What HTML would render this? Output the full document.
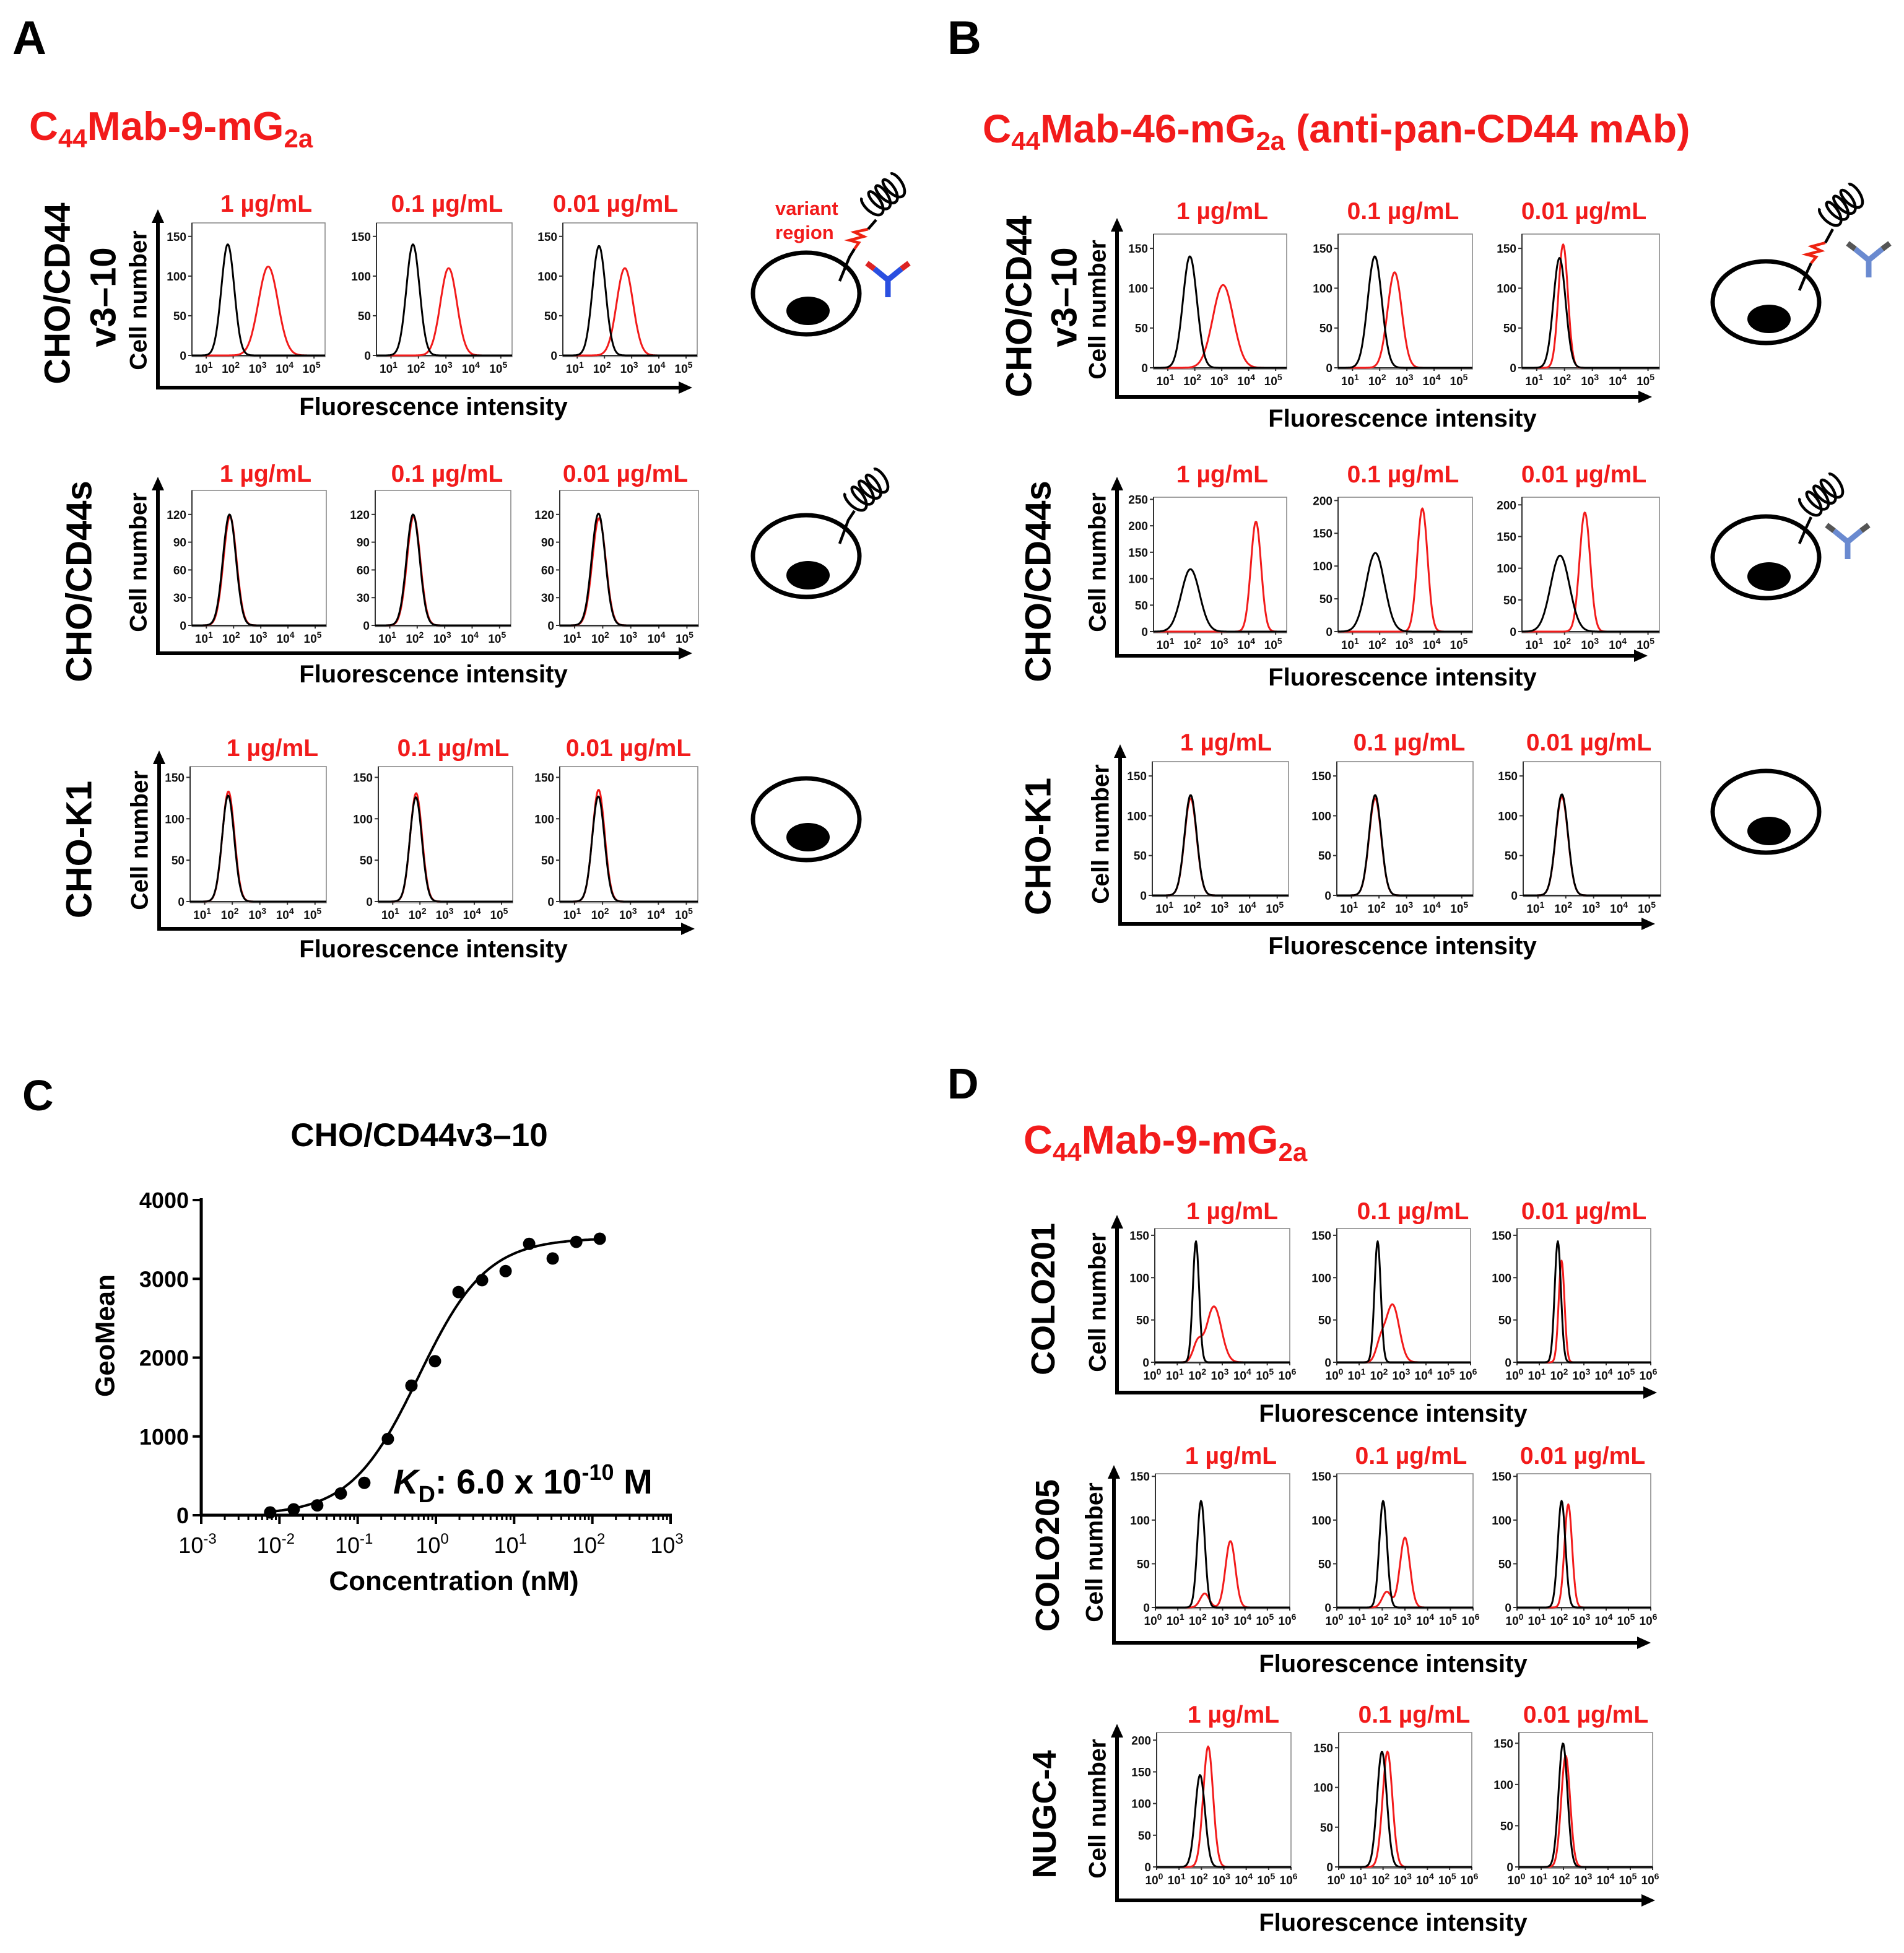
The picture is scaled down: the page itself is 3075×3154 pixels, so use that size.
<!DOCTYPE html>
<html><head><meta charset="utf-8"><style>
html,body{margin:0;padding:0;background:#fff;}
svg{display:block;font-family:"Liberation Sans",Arial,sans-serif;font-weight:bold;}
</style></head><body>
<svg id="fig" xmlns="http://www.w3.org/2000/svg" width="3075" height="3154" viewBox="0 0 3075 3154">
<rect x="0" y="0" width="3075" height="3154" fill="#fff"/>
<text x="20" y="87" font-size="76" fill="#000">A</text>
<text x="1530" y="87" font-size="76" fill="#000">B</text>
<text x="36" y="1793" font-size="70" fill="#000">C</text>
<text x="1530" y="1774" font-size="70" fill="#000">D</text>
<text x="47" y="226" font-size="65" fill="#f21b1b">C<tspan font-size="42" dy="12">44</tspan><tspan dy="-12">Mab-9-mG</tspan><tspan font-size="42" dy="12">2a</tspan></text>
<text x="1587" y="230" font-size="64" fill="#f21b1b">C<tspan font-size="42" dy="12">44</tspan><tspan dy="-12">Mab-46-mG</tspan><tspan font-size="42" dy="12">2a</tspan><tspan dy="-12"> (anti-pan-CD44 mAb)</tspan></text>
<text x="1653" y="1863" font-size="65" fill="#f21b1b">C<tspan font-size="42" dy="12">44</tspan><tspan dy="-12">Mab-9-mG</tspan><tspan font-size="42" dy="12">2a</tspan></text>
<text x="1252" y="347" font-size="31" fill="#f21b1b">variant</text>
<text x="1252" y="386" font-size="31" fill="#f21b1b">region</text>
<g id="root"></g>
</svg>
<script>
// ---------- Panel A data (log10 peak position, height, width) ----------
const aBlackPeak = [[1.8,1.8,1.8],[1.85,1.85,1.85],[1.85,1.85,1.85]];
const aBlackHeight = [[140,140,138],[120,120,121],[128,126,127]];
const aBlackWidth = [[0.24,0.24,0.24],[0.24,0.24,0.24],[0.22,0.22,0.22]];
const aRedPeak = [[3.3,3.1,2.75],[1.87,1.87,1.87],[1.86,1.86,1.86]];
const aRedHeight = [[112,110,110],[118,118,116],[133,131,135]];
const aRedWidth = [[0.36,0.3,0.3],[0.24,0.24,0.24],[0.22,0.22,0.22]];
// ---------- Panel B data ----------
const bBlackPeak = [[1.82,1.82,1.82],[1.84,1.84,1.84],[1.86,1.86,1.86]];
const bBlackHeight = [[140,140,138],[118,120,120],[126,126,127]];
const bBlackWidth = [[0.26,0.26,0.22],[0.34,0.34,0.34],[0.22,0.22,0.22]];
const bRedPeak = [[3.05,2.55,1.95],[4.27,3.57,2.73],[1.86,1.86,1.86]];
const bRedHeight = [[104,120,155],[208,188,188],[122,122,124]];
const bRedWidth = [[0.38,0.26,0.17],[0.19,0.19,0.19],[0.22,0.22,0.22]];
// ---------- Panel D data ----------
const dBlackPeak = [[1.83,1.83,1.83],[2.04,2.04,2.0],[1.94,1.95,1.98]];
const dBlackHeight = [[143,143,143],[122,122,122],[145,145,150]];
const dBlackWidth = [[0.14,0.14,0.14],[0.17,0.17,0.17],[0.22,0.22,0.2]];
const dRedPeak = [[2.63,2.5,2.0],[3.35,3.0,2.3],[2.3,2.2,2.1]];
const dRedHeight = [[66,68,120],[76,80,118],[190,145,135]];
const dRedWidth = [[0.33,0.3,0.13],[0.22,0.22,0.17],[0.22,0.22,0.2]];
const dShoulderPeak = [[1.9,1.95,0],[2.2,2.2,0],[0,0,0]];
const dShoulderHeight = [[22,20,0],[16,18,0],[0,0,0]];
// ---------- Panel C data ----------
const cConc = [0.0076,0.0152,0.0304,0.0608,0.1216,0.2432,0.4864,0.9728,1.946,3.891,7.782,15.56,31.13,62.26,124.5];
const cGeoMean = [35,75,125,276,411,968,1644,1955,2832,2983,3098,3444,3258,3469,3509];
const cFitBmax = [3520];
const cFitKd = [0.6];
const cYTicks = [0,1000,2000,3000,4000];
const cXTickExp = [-3,-2,-1,0,1,2,3];
const concLabels = ["1 µg/mL","0.1 µg/mL","0.01 µg/mL"];

const NS="http://www.w3.org/2000/svg";
const root=document.getElementById('root');
function mk(tag,attrs,parent){const e=document.createElementNS(NS,tag);for(const k in attrs)e.setAttribute(k,attrs[k]);(parent||root).appendChild(e);return e;}
const RED="#f21b1b";

function arrowAxes(prefix,xV,yTop,yH,xEnd){
  const v=mk('line',{x1:xV,y1:yTop+18,x2:xV,y2:yH+3,stroke:'#000','stroke-width':6});
  
  
  const vh=mk('polygon',{points:`${xV-10},${yTop+22} ${xV+10},${yTop+22} ${xV},${yTop}`,fill:'#000'});
  
  
  const h=mk('line',{x1:xV-3,y1:yH,x2:xEnd-18,y2:yH,stroke:'#000','stroke-width':6});
  
  
  const hh=mk('polygon',{points:`${xEnd-22},${yH-10} ${xEnd-22},${yH+10} ${xEnd},${yH}`,fill:'#000'});
  
  
}
function rotText(txt,cx,cy,size,name){
  const t=mk('text',{x:0,y:0,'font-size':size,'text-anchor':'middle','dominant-baseline':'central',transform:`translate(${cx},${cy}) rotate(-90)`,fill:'#000'});
  t.textContent=txt;
  
  
}
function hist(prefix,x0,x1,yTop,yZero,lmin,lmax,ymax,ticks,exps,bp,bh,bw,rp,rh,rw,sp,sh){
  const g=mk('g',{});
  
  
  const box=mk('rect',{x:x0,y:yTop,width:x1-x0,height:yZero-yTop+2,fill:'none',stroke:'#8a8a8a','stroke-width':1.6},g);
  
  
  const la=mk('line',{x1:x0,y1:yTop,x2:x0,y2:yZero,stroke:'#333','stroke-width':2},g);
  
  
  const ba=mk('line',{x1:x0,y1:yZero,x2:x1,y2:yZero,stroke:'#333','stroke-width':2},g);
  
  
  const sx=l=>x0+(l-lmin)/(lmax-lmin)*(x1-x0);
  const sy=v=>yZero-v/ymax*(yZero-yTop);
  ticks.forEach(tv=>{
    const tk=mk('line',{x1:x0-6,y1:sy(tv),x2:x0,y2:sy(tv),stroke:'#333','stroke-width':2},g);
    
    
    const tl=mk('text',{x:x0-9,y:sy(tv)+7,'font-size':19,'text-anchor':'end',fill:'#111'},g);
    tl.textContent=tv;
    
    
  });
  exps.forEach(ex=>{
    const tk=mk('line',{x1:sx(ex),y1:yZero,x2:sx(ex),y2:yZero+5,stroke:'#333','stroke-width':2},g);
    
    
    const tl=mk('text',{x:sx(ex)-4,y:yZero+28,'font-size':19,'text-anchor':'middle',fill:'#111'},g);
    tl.innerHTML='10<tspan font-size="14" dy="-8">'+ex+'</tspan>';
    
    
  });
  function curve(comps,color,name){
    let d='';const n=180;
    for(let i=0;i<=n;i++){
      const l=lmin+(lmax-lmin)*i/n;let v=0;
      comps.forEach(c=>{if(c[1]>0)v+=c[1]*Math.exp(-0.5*Math.pow((l-c[0])/c[2],2));});
      v=Math.min(v,ymax);
      d+=(i?'L':'M')+sx(l).toFixed(1)+','+sy(v).toFixed(1);
    }
    const p=mk('path',{d:d,fill:'none',stroke:color,'stroke-width':3,'stroke-linejoin':'round'},g);
    
    
  }
  const redC=[[rp,rh,rw]];
  if(sh) redC.push([sp,sh,0.2]);
  curve(redC,RED,prefix+'-antibody-curve');
  curve([[bp,bh,bw]],'#000',prefix+'-control-curve');
}
function colLabels(prefix,centers,baseline){
  centers.forEach((cx,i)=>{
    const t=mk('text',{x:cx,y:baseline,'font-size':39,'text-anchor':'middle',fill:RED});
    t.textContent=concLabels[i];
    
    
  });
}
function fluor(prefix,cx,baseline){
  const t=mk('text',{x:cx,y:baseline,'font-size':40,'text-anchor':'middle',fill:'#000'});
  t.textContent='Fluorescence intensity';
  
  
}

// ---------- layout ----------
const AB_EXP=[1,2,3,4,5], D_EXP=[0,1,2,3,4,5,6];
const rowsA=[
 {yTop:360,yZero:574,boxes:[[310,525],[608,827],[909,1126]],ymax:[167,167,167],ticks:[[0,50,100,150],[0,50,100,150],[0,50,100,150]],lab:[430,722,994],lb:342,ax:255,at:338,ay:626,ae:1118,fb:670,fx:700,cn:485},
 {yTop:792,yZero:1010,boxes:[[310,527],[606,825],[904,1128]],ymax:[146,146,146],ticks:[[0,30,60,90,120],[0,30,60,90,120],[0,30,60,90,120]],lab:[429,722,1010],lb:778,ax:255,at:770,ay:1055,ae:1118,fb:1102,fx:700,cn:908},
 {yTop:1238,yZero:1456,boxes:[[307,527],[611,828],[904,1127]],ymax:[163,163,163],ticks:[[0,50,100,150],[0,50,100,150],[0,50,100,150]],lab:[440,732,1015],lb:1221,ax:257,at:1212,ay:1500,ae:1122,fb:1546,fx:700,cn:1357}];
const rowsB=[
 {yTop:378,yZero:594,boxes:[[1863,2078],[2161,2378],[2458,2680]],ymax:[168,168,168],ticks:[[0,50,100,150],[0,50,100,150],[0,50,100,150]],lab:[1974,2266,2558],lb:354,ax:1804,at:352,ay:641,ae:2668,fb:689,fx:2265,cn:500},
 {yTop:803,yZero:1020,boxes:[[1863,2078],[2161,2378],[2458,2680]],ymax:[254,205,212],ticks:[[0,50,100,150,200,250],[0,50,100,150,200],[0,50,100,150,200]],lab:[1974,2266,2558],lb:779,ax:1804,at:770,ay:1059,ae:2661,fb:1107,fx:2265,cn:908},
 {yTop:1230,yZero:1446,boxes:[[1861,2081],[2159,2379],[2460,2682]],ymax:[168,168,168],ticks:[[0,50,100,150],[0,50,100,150],[0,50,100,150]],lab:[1980,2276,2566],lb:1212,ax:1809,at:1202,ay:1492,ae:2673,fb:1541,fx:2265,cn:1347}];
const rowsD=[
 {yTop:1984,yZero:2200,boxes:[[1865,2083],[2159,2375],[2450,2666]],ymax:[158,158,158],ticks:[[0,50,100,150],[0,50,100,150],[0,50,100,150]],lab:[1990,2282,2558],lb:1969,ax:1804,at:1962,ay:2249,ae:2676,fb:2296,fx:2250,cn:2103},
 {yTop:2380,yZero:2596,boxes:[[1866,2083],[2159,2379],[2450,2666]],ymax:[153,153,153],ticks:[[0,50,100,150],[0,50,100,150],[0,50,100,150]],lab:[1988,2279,2556],lb:2364,ax:1799,at:2366,ay:2653,ae:2666,fb:2700,fx:2250,cn:2507},
 {yTop:2798,yZero:3015,boxes:[[1868,2085],[2162,2377],[2453,2669]],ymax:[212,169,163],ticks:[[0,50,100,150,200],[0,50,100,150],[0,50,100,150]],lab:[1992,2284,2561],lb:2782,ax:1804,at:2784,ay:3069,ae:2673,fb:3118,fx:2250,cn:2921}];

function buildGroup(pref,rows,lmin,lmax,exps,BP,BH,BW,RP,RH,RW,SP,SH){
  rows.forEach((r,ri)=>{
    const rp=pref+'-row'+(ri+1);
    colLabels(rp,r.lab,r.lb);
    arrowAxes(rp,r.ax,r.at,r.ay,r.ae);
    fluor(rp,r.fx,r.fb);
    rotText('Cell number',r.ax-31,r.cn,39,rp+'-y-axis-title');
    r.boxes.forEach((b,ci)=>{
      hist(rp+'-hist-'+(ci+1),b[0],b[1],r.yTop,r.yZero,lmin,lmax,r.ymax[ci],r.ticks[ci],exps,
        BP[ri][ci],BH[ri][ci],BW[ri][ci],RP[ri][ci],RH[ri][ci],RW[ri][ci],SP?SP[ri][ci]:0,SH?SH[ri][ci]:0);
    });
  });
}
buildGroup('a',rowsA,0.47,5.41,AB_EXP,aBlackPeak,aBlackHeight,aBlackWidth,aRedPeak,aRedHeight,aRedWidth);
buildGroup('b',rowsB,0.47,5.41,AB_EXP,bBlackPeak,bBlackHeight,bBlackWidth,bRedPeak,bRedHeight,bRedWidth);
buildGroup('d',rowsD,0,6,D_EXP,dBlackPeak,dBlackHeight,dBlackWidth,dRedPeak,dRedHeight,dRedWidth,dShoulderPeak,dShoulderHeight);

// row labels
rotText('CHO/CD44',93,474,58,'a-row1-label');
rotText('v3–10',167,480,58,'a-row1-label-2');
rotText('CHO/CD44s',128,939,58,'a-row2-label');
rotText('CHO-K1',128,1372,58,'a-row3-label');
rotText('CHO/CD44',1646,495,58,'b-row1-label');
rotText('v3–10',1719,480,58,'b-row1-label-2');
rotText('CHO/CD44s',1677,939,58,'b-row2-label');
rotText('CHO-K1',1677,1367,58,'b-row3-label');
rotText('COLO201',1685,2098,54,'d-row1-label');
rotText('COLO205',1692,2512,54,'d-row2-label');
rotText('NUGC-4',1687,2930,54,'d-row3-label');

// ---------- cell diagrams ----------
function cell(name,cx,cy,nx,ny){
  const c=mk('ellipse',{cx:cx,cy:cy,rx:86,ry:66,fill:'none',stroke:'#000','stroke-width':7});
  
  
  const n=mk('ellipse',{cx:nx,cy:ny,rx:35,ry:23,fill:'#000'});
  
  
}
function coil(name,cx,cy,ang){
  let d='';
  for(let i=0;i<=200;i++){const t=i/200*Math.PI*2*4;const x=2.4*t-9*Math.sin(t);const y=-20*Math.cos(t);d+=(i?'L':'M')+x.toFixed(1)+','+y.toFixed(1);}
  const p=mk('path',{d:d,fill:'none',stroke:'#000','stroke-width':4.5,transform:`translate(${cx},${cy}) rotate(${ang})`});
  
  
}
function stalk(name,pts,color){
  const p=mk('polyline',{points:pts,fill:'none',stroke:color,'stroke-width':4.5});
  
  
}
function antibody(name,x,y,stemColor,armColor){
  const g=mk('g',{transform:`translate(${x},${y})`});
  
  
  mk('line',{x1:0,y1:0,x2:0,y2:28,stroke:stemColor,'stroke-width':9},g);
  mk('line',{x1:0,y1:0,x2:-22,y2:-18,stroke:stemColor,'stroke-width':9},g);
  mk('line',{x1:0,y1:0,x2:22,y2:-18,stroke:stemColor,'stroke-width':9},g);
  mk('line',{x1:-22,y1:-18,x2:-34,y2:-27,stroke:armColor,'stroke-width':9},g);
  mk('line',{x1:22,y1:-18,x2:34,y2:-27,stroke:armColor,'stroke-width':9},g);
}
cell('a-cell-1',1302,474,1305,502);
cell('a-cell-2',1302,898,1305,929);
cell('a-cell-3',1302,1323,1305,1352);
cell('b-cell-1',2852,488,2857,515);
cell('b-cell-2',2852,900,2857,931);
cell('b-cell-3',2852,1311,2857,1342);
stalk('a-stalk-1','1356,454 1372,415 1380,402','#000');
stalk('a-variant-region','1380,402 1387,392 1372,388 1395,382 1380,375 1402,370','#e21');
stalk('a-stalk-1b','1402,370 1415,355','#000');
coil('a-coil-1',1405,335,-40);
antibody('a-antibody',1434,452,'#2a4fe0','#d22');
stalk('a-stalk-2','1356,878 1370,840 1380,825','#000');
coil('a-coil-2',1378,812,-40);
stalk('b-stalk-1','2906,469 2918,440 2925,425','#000');
stalk('b-variant-region','2925,425 2933,415 2918,411 2941,405 2926,398 2948,392','#e21');
stalk('b-stalk-1b','2948,392 2960,370','#000');
coil('b-coil-1',2952,352,-40);
antibody('b-antibody-1',3018,420,'#6a8ad0','#555');
stalk('b-stalk-2','2906,878 2918,850 2925,835','#000');
coil('b-coil-2',2920,820,-40);
antibody('b-antibody-2',2984,875,'#6a8ad0','#555');

// ---------- Panel C: binding curve ----------
const cx0=325,cx1=1083,cyTop=1938,cyZero=2447;
const xs=v=>cx0+(Math.log10(v)+3)/6*(cx1-cx0);
const ys=v=>cyZero-v/4000*(cyZero-cyTop);
(function(){
  const t=mk('text',{x:677,y:1851,'font-size':53,'text-anchor':'middle',fill:'#000'});
  t.textContent='CHO/CD44v3–10';
  
  
  const ya=mk('line',{x1:cx0,y1:cyTop-3,x2:cx0,y2:cyZero+2,stroke:'#000','stroke-width':5});
  
  
  const xa=mk('line',{x1:cx0-2,y1:cyZero,x2:cx1+2,y2:cyZero,stroke:'#000','stroke-width':5});
  
  
  cYTicks.forEach(v=>{
    const tk=mk('line',{x1:cx0-14,y1:ys(v),x2:cx0,y2:ys(v),stroke:'#000','stroke-width':4});
    
    
    const tl=mk('text',{x:cx0-20,y:ys(v)+13,'font-size':36,'text-anchor':'end',fill:'#000'});
    tl.textContent=v;
    
    
  });
  cXTickExp.forEach((e,i)=>{
    const x=xs(Math.pow(10,e));
    const tk=mk('line',{x1:x,y1:cyZero,x2:x,y2:cyZero+14,stroke:'#000','stroke-width':4});
    
    
    const tl=mk('text',{x:x-6,y:2508,'font-size':36,'text-anchor':'middle',fill:'#000','font-weight':'normal'});
    tl.innerHTML='10<tspan font-size="24" dy="-15">'+e+'</tspan>';
    
    
    if(i<cXTickExp.length-1){for(let m=2;m<10;m++){
      const mx=xs(m*Math.pow(10,e));
      const mt=mk('line',{x1:mx,y1:cyZero,x2:mx,y2:cyZero+8,stroke:'#000','stroke-width':3});
      
      
    }}
  });
  rotText('GeoMean',170,2157,44,'c-y-axis-title');
  const xt=mk('text',{x:733,y:2568,'font-size':44,'text-anchor':'middle',fill:'#000'});
  xt.textContent='Concentration (nM)';
  
  
  let d='';const lo=Math.log10(cConc[0]),hi=Math.log10(cConc[cConc.length-1]);
  for(let i=0;i<=200;i++){const c=Math.pow(10,lo+(hi-lo)*i/200);const v=cFitBmax[0]*c/(cFitKd[0]+c);d+=(i?'L':'M')+xs(c).toFixed(1)+','+ys(v).toFixed(1);}
  const fc=mk('path',{d:d,fill:'none',stroke:'#000','stroke-width':4});
  
  
  cConc.forEach((c,i)=>{
    const pt=mk('circle',{cx:xs(c),cy:ys(cGeoMean[i]),r:10,fill:'#000'});
    
    
  });
  const kd=mk('text',{x:635,y:2412,'font-size':56,fill:'#000'});
  kd.innerHTML='<tspan font-style="italic">K</tspan><tspan font-size="38" dy="14">D</tspan><tspan dy="-14">: 6.0 x 10</tspan><tspan font-size="36" dy="-22">-10</tspan><tspan dy="22"> M</tspan>';
  
  
})();
</script>
</body></html>
